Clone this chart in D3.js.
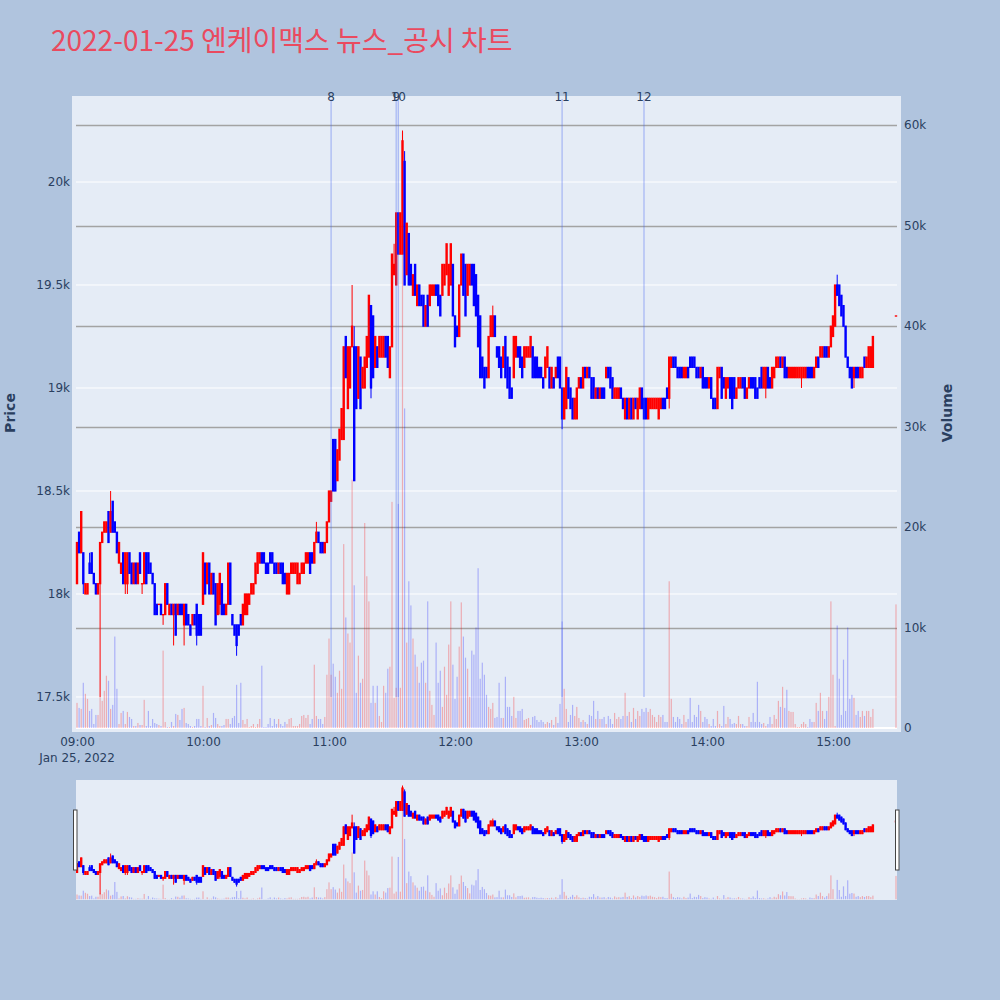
<!DOCTYPE html>
<html><head><meta charset="utf-8">
<script src="https://cdn.jsdelivr.net/npm/d3@7"></script>
<style>body{margin:0;background:#b0c4de}svg{display:block}</style>
</head><body><svg id="chart" width="1000" height="1000"></svg>
<script>
const chartTitle = "2022-01-25 엔케이맥스 뉴스_공시 차트";
const sessionDate = [2022, 0, 25];
const closingAuctionTime = [15, 30];

const opens = [
18050,18300,18200,18200,18000,18000,18150,18200,18100,18050,
18000,18050,18250,18300,18300,18400,18300,18450,18350,18300,
18150,18100,18200,18050,18050,18200,18150,18050,18150,18050,
18200,18050,18050,18200,18200,18150,18100,18050,17950,17950,
17950,17900,17900,18050,17900,17950,17900,17950,17900,17950,
17950,17850,17950,17900,17850,17850,17900,17950,17900,17900,
17950,18150,18050,18150,18000,18100,18050,17900,17950,18050,
17950,17900,17950,18150,17900,17850,17850,17850,17900,17850,
17900,17900,17950,18000,18000,18050,18100,18150,18200,18200,
18150,18150,18200,18200,18150,18150,18100,18150,18150,18100,
18000,18000,18100,18100,18100,18050,18050,18100,18100,18150,
18150,18200,18200,18150,18250,18300,18250,18250,18200,18250,
18350,18450,18750,18750,18550,18650,18750,18750,19250,18900,
19000,19200,19200,19200,18950,19150,19000,19000,19100,19150,
19400,19350,19100,19200,19150,19150,19150,19250,19250,19050,
19200,19550,19500,19850,19650,19650,20100,19550,19750,19600,
19450,19600,19400,19500,19450,19450,19300,19450,19400,19450,
19450,19500,19500,19450,19450,19500,19550,19450,19500,19600,
19350,19300,19250,19500,19650,19600,19450,19500,19600,19600,
19550,19450,19350,19150,19100,19100,19050,19250,19250,19350,
19200,19200,19150,19100,19250,19150,19100,19000,19050,19150,
19200,19200,19150,19100,19150,19150,19150,19200,19150,19150,
19100,19100,19050,19050,19100,19100,19000,19050,19050,19150,
19150,19000,18850,18900,19050,19000,18950,18850,18850,19000,
19050,19000,19100,19050,19100,19050,19050,18950,19000,18950,
19000,19000,19050,19100,19100,19050,18950,18950,18950,19000,
18950,18850,18950,18850,18950,18850,18950,18850,18900,19000,
18950,18950,18850,18900,18900,18900,18900,18850,18900,18950,
18950,19000,18950,19100,19150,19150,19100,19100,19100,19050,
19050,19100,19150,19150,19150,19100,19100,19050,19100,19050,
19050,19000,19050,18950,18950,18900,19050,19100,19050,18950,
19000,19050,19050,19050,18950,19000,19000,19050,19050,18950,
19000,19050,19050,19050,19000,19050,19100,19000,19000,19100,
19050,19000,19050,19100,19100,19150,19100,19150,19100,19050,
19050,19050,19050,19050,19050,19050,19050,19050,19100,19100,
19100,19050,19100,19150,19150,19150,19200,19200,19150,19200,
19250,19300,19500,19500,19450,19400,19300,19150,19100,19100,
19050,19100,19100,19050,19050,19150,19100,19100,19100,19100,
19350];

const closes = [
18250,18200,18400,18050,18050,18050,18100,18100,18050,18000,
18050,18250,18300,18350,18350,18250,18400,18300,18300,18200,
18250,18150,18050,18200,18200,18100,18050,18150,18050,18150,
18100,18050,18200,18050,18100,18100,18050,17900,17900,17950,
17900,17900,18050,17950,17950,17900,17950,17800,17950,17900,
17900,17950,17850,17850,17800,17900,17850,17800,17800,17800,
18200,18000,18150,18000,18100,18000,17850,18050,18100,17900,
17900,17950,18150,17950,17850,17800,17750,17800,17850,17950,
18000,18000,18000,18050,18050,18150,18200,18200,18150,18150,
18100,18100,18150,18150,18100,18100,18150,18100,18050,18050,
18100,18100,18150,18150,18150,18150,18100,18150,18150,18200,
18200,18100,18150,18250,18300,18250,18200,18200,18250,18350,
18500,18500,18500,18500,18700,18800,18900,19200,19050,19200,
19200,19300,18550,18900,19200,18900,19100,19150,19250,19450,
19000,19050,19250,19100,19250,19250,19250,19150,19100,19200,
19650,19600,19850,19650,19850,20200,19500,19800,19500,19500,
19550,19450,19500,19400,19400,19300,19400,19300,19500,19500,
19500,19450,19400,19350,19600,19600,19700,19600,19700,19350,
19200,19250,19500,19650,19450,19350,19600,19600,19500,19400,
19350,19200,19050,19050,19000,19050,19250,19350,19350,19250,
19150,19100,19050,19200,19050,19000,18950,18950,19250,19250,
19150,19100,19050,19200,19200,19200,19250,19050,19050,19050,
19050,19050,19000,19150,19200,19000,19100,19000,19100,19050,
19000,18850,19000,19100,18950,18900,18850,18950,19000,19050,
19000,19100,19050,19100,19050,18950,18950,19000,18950,19000,
18950,18950,19100,19050,19000,18950,19000,19000,19000,18950,
18900,18950,18850,18950,18850,18950,18900,18950,19000,18900,
18850,18850,18950,18950,18950,18950,18950,18950,18950,18900,
18900,18950,19150,19150,19100,19100,19050,19050,19050,19100,
19100,19050,19100,19100,19100,19050,19050,19100,19000,19000,
19000,19050,18950,18900,18900,19100,19100,18950,19000,19050,
19050,18950,18900,18950,19000,19050,19050,19000,18950,19000,
19050,19000,19000,18950,18950,19000,19000,19100,19100,19000,
19000,19100,19100,19150,19150,19100,19150,19050,19050,19100,
19100,19100,19100,19100,19100,19100,19100,19100,19050,19050,
19050,19100,19150,19100,19200,19200,19150,19150,19200,19300,
19350,19500,19450,19400,19350,19300,19150,19100,19050,19000,
19100,19050,19050,19100,19100,19100,19150,19200,19200,19250,
19350];

const highs = [
18250,18300,18400,18200,18050,18050,18200,18200,18100,18050,
18050,18250,18300,18350,18350,18400,18500,18450,18350,18300,
18250,18150,18200,18200,18200,18200,18150,18150,18150,18150,
18200,18050,18200,18200,18200,18150,18100,18050,17950,17950,
17950,17900,18050,18050,17950,17950,17950,17950,17950,17950,
17950,17950,17950,17900,17850,17900,17900,17950,17900,17900,
18200,18150,18150,18150,18100,18100,18050,18050,18100,18050,
17950,17950,18150,18150,17900,17850,17850,17850,17900,17950,
18000,18000,18000,18050,18050,18150,18200,18200,18200,18200,
18150,18150,18200,18200,18150,18150,18150,18150,18150,18100,
18100,18100,18150,18150,18150,18150,18100,18150,18150,18200,
18200,18200,18200,18250,18350,18300,18250,18250,18250,18350,
18500,18500,18750,18750,18700,18800,18900,19200,19250,19200,
19200,19500,19300,19200,19200,19150,19100,19150,19250,19450,
19400,19350,19250,19200,19250,19250,19250,19250,19250,19200,
19650,19700,19850,19850,19850,20250,20150,19800,19750,19600,
19550,19600,19500,19500,19450,19450,19400,19450,19500,19500,
19500,19500,19500,19450,19600,19600,19700,19600,19700,19600,
19350,19300,19500,19650,19650,19600,19600,19600,19600,19600,
19550,19450,19350,19150,19100,19100,19250,19350,19400,19350,
19200,19200,19150,19200,19250,19150,19100,19000,19250,19250,
19200,19200,19150,19200,19200,19200,19250,19200,19150,19150,
19100,19100,19050,19150,19200,19100,19100,19050,19100,19150,
19150,19000,19000,19100,19050,19000,18950,18950,19000,19050,
19050,19100,19100,19100,19100,19050,19050,19000,19000,19000,
19000,19000,19100,19100,19100,19050,19000,19000,19000,19000,
18950,18950,18950,18950,18950,18950,18950,18950,19000,19000,
18950,18950,18950,18950,18950,18950,18950,18950,18950,18950,
18950,19000,19150,19150,19150,19150,19100,19100,19100,19100,
19100,19100,19150,19150,19150,19100,19100,19100,19100,19050,
19050,19050,19050,18950,18950,19100,19100,19100,19050,19050,
19050,19050,19050,19050,19000,19050,19050,19050,19050,19000,
19050,19050,19050,19050,19000,19050,19100,19100,19100,19100,
19050,19100,19100,19150,19150,19150,19150,19150,19100,19100,
19100,19100,19100,19100,19100,19100,19100,19100,19100,19100,
19100,19100,19150,19150,19200,19200,19200,19200,19200,19300,
19350,19500,19550,19500,19450,19400,19300,19150,19100,19100,
19100,19100,19100,19100,19100,19150,19150,19200,19200,19250,
19350];

const lows = [
18050,18200,18200,18000,18000,18000,18100,18100,18050,18000,
18000,17500,18250,18300,18300,18250,18300,18300,18300,18200,
18150,18100,18050,18000,18000,18100,18050,18050,18050,18050,
18100,18000,18050,18050,18100,18100,18050,17900,17900,17950,
17900,17850,17900,17950,17900,17900,17750,17800,17900,17900,
17900,17750,17850,17850,17800,17850,17850,17750,17800,17800,
17950,18000,18050,18000,18000,18000,17850,17900,17900,17900,
17900,17900,17950,17950,17850,17800,17700,17800,17850,17850,
17900,17900,17950,18000,18000,18050,18100,18150,18150,18150,
18100,18100,18150,18150,18100,18100,18100,18100,18050,18050,
18000,18000,18100,18100,18100,18050,18050,18100,18100,18150,
18150,18100,18150,18150,18250,18250,18200,18200,18200,18250,
18350,18450,18500,18500,18550,18650,18750,18750,19050,18900,
19000,19200,18550,18900,18950,18900,19000,19000,19100,19150,
18950,19050,19100,19100,19150,19150,19150,19150,19100,19050,
19200,19550,19500,19650,19650,19650,19500,19550,19500,19500,
19450,19450,19400,19400,19400,19300,19300,19300,19400,19450,
19450,19450,19400,19350,19450,19500,19550,19450,19500,19350,
19200,19250,19250,19500,19450,19350,19450,19500,19500,19400,
19350,19200,19050,19050,19000,19050,19050,19250,19250,19250,
19150,19100,19050,19100,19050,19000,18950,18950,19050,19150,
19150,19100,19050,19100,19150,19150,19150,19050,19050,19050,
19050,19050,19000,19050,19100,19000,19000,19000,19050,19050,
19000,18800,18850,18900,18950,18900,18850,18850,18850,19000,
19000,19000,19050,19050,19050,18950,18950,18950,18950,18950,
18950,18950,19050,19050,19000,18950,18950,18950,18950,18950,
18900,18850,18850,18850,18850,18850,18900,18850,18900,18900,
18850,18850,18850,18900,18900,18900,18900,18850,18900,18900,
18900,18950,18900,19100,19100,19100,19050,19050,19050,19050,
19050,19050,19100,19100,19100,19050,19050,19050,19000,19000,
19000,19000,18950,18900,18900,18900,19050,18950,19000,18950,
19000,18950,18900,18950,18950,19000,19000,19000,18950,18950,
19000,19000,19000,18950,18950,19000,19000,19000,18950,19000,
19000,19000,19050,19100,19100,19100,19100,19050,19050,19050,
19050,19050,19050,19050,19050,19000,19050,19050,19050,19050,
19050,19050,19100,19100,19150,19150,19150,19150,19150,19200,
19250,19300,19450,19400,19350,19300,19150,19100,19050,19000,
19000,19050,19050,19050,19050,19100,19100,19100,19100,19100,
19350];

// volume in thousands of shares
const volumeK = [
2.5,2.0,1.9,4.5,3.4,2.9,1.7,1.9,0.4,1.3,
1.3,3.1,2.7,3.7,5.2,4.7,1.9,2.3,9.1,3.9,
0.4,1.5,1.7,0.4,1.6,1.1,0.9,0.2,0.2,0.5,
0.3,0.3,2.8,0.2,1.7,0.2,0.9,0.5,0.4,0.3,
0.2,7.7,0.6,0.1,0.1,0.6,0.2,1.4,1.3,0.8,
1.9,2.0,0.5,0.4,0.2,0.1,0.2,0.9,0.9,0.2,
4.2,0.1,1.0,0.2,0.3,1.5,1.0,0.4,0.2,0.2,
0.3,0.9,0.9,0.4,1.0,1.2,4.3,0.5,4.5,0.8,
0.4,0.9,0.1,0.2,0.4,0.1,0.4,0.9,6.2,0.1,
0.1,0.4,1.0,0.2,0.9,0.4,0.9,0.4,0.2,0.6,
0.4,0.9,1.0,0.2,0.2,0.2,0.4,1.2,1.3,1.0,
1.3,0.4,0.9,6.3,1.2,0.9,0.9,0.4,1.1,5.3,
8.9,5.3,6.4,5.1,3.5,5.7,3.9,18.3,11.0,9.4,
8.5,24.7,14.2,3.5,7.2,4.5,4.9,20.4,15.1,12.6,
2.5,4.2,2.5,4.2,1.2,0.6,4.2,3.5,5.9,6.1,
22.5,3.0,4.0,22.3,4.0,59.3,31.8,8.5,14.6,12.2,
8.9,7.3,6.1,4.5,6.5,6.7,4.5,12.6,3.7,2.3,
1.3,8.5,4.5,5.7,2.1,6.1,3.3,8.3,12.6,6.3,
2.9,5.1,8.1,12.5,9.1,7.0,5.9,3.1,7.7,7.3,
10.0,15.9,4.9,6.5,5.3,3.3,2.1,1.9,2.5,1.0,
1.1,4.5,1.0,1.0,5.1,2.1,2.1,1.2,3.1,1.0,
1.7,1.7,1.9,0.8,0.9,1.0,0.3,1.1,1.2,0.8,
0.6,0.8,0.6,0.4,0.6,0.5,0.8,0.3,1.1,0.5,
2.4,10.6,3.9,1.9,0.6,1.3,2.3,1.2,2.1,1.0,
0.6,0.8,0.6,0.4,1.3,1.2,2.7,0.9,1.7,0.9,
0.9,1.1,0.4,1.2,0.9,0.4,1.5,0.9,1.1,0.9,
1.2,3.5,1.2,1.6,0.6,2.0,0.9,1.7,1.2,1.9,
1.6,2.0,1.6,1.9,1.3,1.1,0.6,1.3,1.1,1.3,
0.6,0.6,14.6,2.9,1.1,0.6,1.1,0.9,0.4,1.3,
0.6,0.9,3.0,0.6,1.3,1.1,2.3,1.7,0.6,1.1,
0.9,0.4,0.2,0.9,0.2,1.7,0.4,0.2,2.2,0.4,
1.1,0.9,0.4,0.5,0.4,1.2,0.4,0.4,0.2,0.2,
1.1,0.6,1.5,0.6,4.6,0.6,0.4,0.5,0.2,0.4,
1.1,0.4,1.3,0.9,2.7,2.1,4.1,2.0,3.8,1.7,
1.6,1.6,0.4,0.1,0.1,0.4,0.6,0.4,0.1,0.9,
0.6,0.6,2.5,1.7,3.5,1.7,0.9,1.7,3.1,12.6,
5.3,0.2,10.2,4.9,1.3,6.8,1.7,10.0,2.9,3.3,
3.0,1.3,1.7,1.1,1.7,1.2,1.7,1.7,1.1,1.9,
12.3];

const newsLabels = ["8", "9", "10", "11", "12"];
const newsTimes = [[11, 1], [11, 32], [11, 33], [12, 51], [13, 30]];

const priceTicks = [17500, 18000, 18500, 19000, 19500, 20000];
const priceTickLabels = ["17.5k", "18k", "18.5k", "19k", "19.5k", "20k"];
const volumeTicksK = [0, 10, 20, 30, 40, 50, 60];
const volumeTickLabels = ["0", "10k", "20k", "30k", "40k", "50k", "60k"];
const timeTickHours = [9, 10, 11, 12, 13, 14, 15];
const timeTickLabels = ["09:00", "10:00", "11:00", "12:00", "13:00", "14:00", "15:00"];
const dateLabel = "Jan 25, 2022";

// ---------- drawing ----------
const [Y, M, D] = sessionDate;
const t0 = new Date(Y, M, D, 9, 0);
const nRegular = opens.length - 1;
const times = opens.map((_, i) => i < nRegular ? d3.timeMinute.offset(t0, i)
                                                : new Date(Y, M, D, closingAuctionTime[0], closingAuctionTime[1]));
const data = times.map((t, i) => ({t, o: opens[i], h: highs[i], l: lows[i], c: closes[i], v: volumeK[i]}));

const UP = "#ff0000", DOWN = "#0000ff";
const UPV = "rgba(255,0,0,0.27)", DOWNV = "rgba(0,0,255,0.25)";
const TXT = "#2a3f5f";
const FONT = "'DejaVu Sans', Verdana, sans-serif";

const svg = d3.select("#chart");
svg.append("rect").attr("width", 1000).attr("height", 1000).attr("fill", "#b0c4de");

const P = {l: 72, r: 901, t: 96, b: 732};
const G = {l: 76, r: 897};

const x = d3.scaleTime()
  .domain([d3.timeSecond.offset(t0, -143), new Date(Y, M, D, 15, 32, 23)])
  .range([P.l, P.r]);
const yP = d3.scaleLinear().domain([17330, 20417.5]).range([P.b, P.t]);
const yV = d3.scaleLinear().domain([-0.398, 62.886]).range([P.b, P.t]);

svg.append("rect").attr("x", P.l).attr("y", P.t).attr("width", P.r - P.l).attr("height", P.b - P.t).attr("fill", "#e5ecf6");

svg.append("defs").append("clipPath").attr("id", "clipMain")
  .append("rect").attr("x", P.l).attr("y", P.t).attr("width", P.r - P.l).attr("height", P.b - P.t);

// price grid (white)
svg.append("g").selectAll("line").data(priceTicks).join("line")
  .attr("x1", G.l).attr("x2", G.r)
  .attr("y1", d => yP(d)).attr("y2", d => yP(d))
  .attr("stroke", "#ffffff").attr("stroke-width", 1);
// volume grid (grey)
svg.append("g").selectAll("line").data(volumeTicksK.filter(d => d > 0)).join("line")
  .attr("x1", G.l).attr("x2", G.r)
  .attr("y1", d => Math.round(yV(d)) + 0.5).attr("y2", d => Math.round(yV(d)) + 0.5)
  .attr("stroke", "#a3a3a3").attr("stroke-width", 1.3);
svg.append("line").attr("x1", G.l).attr("x2", G.r).attr("y1", yV(0)).attr("y2", yV(0))
  .attr("stroke", "#ffffff").attr("stroke-width", 2);

const main = svg.append("g").attr("clip-path", "url(#clipMain)");

// volume bars
main.append("g").selectAll("rect").data(data).join("rect")
  .attr("x", d => x(d.t) - 0.6).attr("width", 1.2)
  .attr("y", d => yV(d.v)).attr("height", d => yV(0) - yV(d.v))
  .attr("fill", d => d.c >= d.o ? UPV : DOWNV);

// candles
const cg = main.append("g");
cg.selectAll("line").data(data).join("line")
  .attr("x1", d => x(d.t)).attr("x2", d => x(d.t))
  .attr("y1", d => yP(d.h)).attr("y2", d => yP(d.l))
  .attr("stroke", d => d.c >= d.o ? UP : DOWN).attr("stroke-width", 1);
cg.selectAll("rect").data(data).join("rect")
  .attr("x", d => x(d.t) - 1.2).attr("width", 2.4)
  .attr("y", d => yP(Math.max(d.o, d.c)) - 0.6)
  .attr("height", d => Math.max(1.4, Math.abs(yP(d.o) - yP(d.c)) + 1.2))
  .attr("fill", d => d.c >= d.o ? UP : DOWN);

// news lines
const newsDates = newsTimes.map(([h, m]) => new Date(Y, M, D, h, m));
svg.append("g").selectAll("line").data(newsDates).join("line")
  .attr("x1", d => x(d)).attr("x2", d => x(d))
  .attr("y1", P.t + 3).attr("y2", yP(17500))
  .attr("stroke", "rgba(70,100,240,0.35)").attr("stroke-width", 1.4);
svg.append("g").selectAll("text").data(newsLabels).join("text")
  .attr("x", (d, i) => x(newsDates[i])).attr("y", P.t + 5)
  .attr("text-anchor", "middle").attr("font-family", FONT).attr("font-size", 12)
  .attr("fill", TXT).text(d => d);

// axes labels
const fmtAxis = g => g.call(s => s.select(".domain").remove()).call(s => s.selectAll(".tick line").remove())
  .call(s => s.selectAll("text").attr("font-family", FONT).attr("font-size", 12).attr("fill", TXT));

svg.append("g").attr("transform", `translate(${P.l},0)`)
  .call(d3.axisLeft(yP).tickValues(priceTicks).tickFormat((d, i) => priceTickLabels[i]).tickSize(0).tickPadding(2))
  .call(fmtAxis);
svg.append("g").attr("transform", `translate(${P.r},0)`)
  .call(d3.axisRight(yV).tickValues(volumeTicksK).tickFormat((d, i) => volumeTickLabels[i]).tickSize(0).tickPadding(3))
  .call(fmtAxis);
const hourDates = timeTickHours.map(h => new Date(Y, M, D, h, 0));
svg.append("g").attr("transform", `translate(0,${P.b})`)
  .call(d3.axisBottom(x).tickValues(hourDates).tickFormat((d, i) => timeTickLabels[i]).tickSize(0).tickPadding(5))
  .call(fmtAxis);
svg.append("text").attr("x", x(hourDates[0])).attr("y", 762).attr("text-anchor", "middle")
  .attr("font-family", FONT).attr("font-size", 12).attr("fill", TXT).text(dateLabel);

svg.append("text").attr("transform", "translate(15,413) rotate(-90)").attr("text-anchor", "middle")
  .attr("font-family", FONT).attr("font-size", 14).attr("font-weight", "bold").attr("fill", TXT).text("Price");
svg.append("text").attr("transform", "translate(952,413) rotate(-90)").attr("text-anchor", "middle")
  .attr("font-family", FONT).attr("font-size", 14).attr("font-weight", "bold").attr("fill", TXT).text("Volume");

// title
svg.append("text").attr("x", 51).attr("y", 51)
  .attr("font-family", "'Noto Sans CJK KR', 'Noto Sans', sans-serif").attr("font-size", 28)
  .attr("fill", "#ea4a5f").text(chartTitle);

// ---------- range slider ----------
const S = {l: 76, r: 897, t: 780, b: 900};
svg.append("rect").attr("x", S.l).attr("y", S.t).attr("width", S.r - S.l).attr("height", S.b - S.t).attr("fill", "#e5ecf6");
svg.select("defs").append("clipPath").attr("id", "clipSlider")
  .append("rect").attr("x", S.l).attr("y", S.t).attr("width", S.r - S.l).attr("height", S.b - S.t);
const ySP = yP.copy().range([S.b, S.t]);
const ySV = yV.copy().range([S.b, S.t]);
const sg = svg.append("g").attr("clip-path", "url(#clipSlider)");
sg.append("g").selectAll("rect").data(data).join("rect")
  .attr("x", d => x(d.t) - 0.6).attr("width", 1.2)
  .attr("y", d => ySV(d.v)).attr("height", d => ySV(0) - ySV(d.v))
  .attr("fill", d => d.c >= d.o ? UPV : DOWNV);
sg.append("g").selectAll("line").data(data).join("line")
  .attr("x1", d => x(d.t)).attr("x2", d => x(d.t))
  .attr("y1", d => ySP(d.h) - 1).attr("y2", d => ySP(d.l) + 1)
  .attr("stroke", d => d.c >= d.o ? UP : DOWN).attr("stroke-width", 1);
sg.append("g").selectAll("rect").data(data).join("rect")
  .attr("x", d => x(d.t) - 1.2).attr("width", 2.4)
  .attr("y", d => ySP(Math.max(d.o, d.c)) - 1)
  .attr("height", d => Math.abs(ySP(d.o) - ySP(d.c)) + 2)
  .attr("fill", d => d.c >= d.o ? UP : DOWN);
// handles
[[73.5, 810], [895.5, 810]].forEach(([hx, hy]) => {
  svg.append("rect").attr("x", hx).attr("y", hy).attr("width", 3.5).attr("height", 60)
    .attr("fill", "#ffffff").attr("stroke", "#444").attr("stroke-width", 1);
});
</script>
</body></html>
